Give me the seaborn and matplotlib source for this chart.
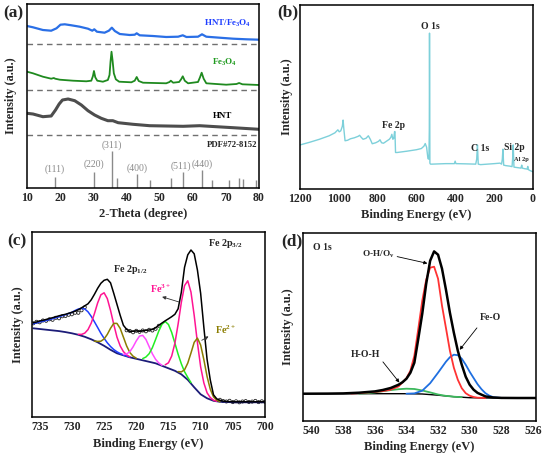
import matplotlib
matplotlib.use("Agg")
import matplotlib.pyplot as plt
import seaborn as sns

# ---------------- (a) XRD patterns ----------------
xrd_comp_x = [10, 11.8, 14.8, 17.3, 18.9, 20.1, 21.4, 23.4, 25.9, 28.4, 29.7, 30.3, 31.1, 33.4, 34.7,
              35.6, 36.5, 38.0, 41.0, 42.5, 43.1, 44.0, 48.0, 52.0, 55.6, 57.0, 58.1, 61.6, 62.8,
              64.1, 68.1, 72.2, 76.2, 80]
xrd_comp_y = [162, 160.7, 158, 157.3, 159.7, 163.3, 163.7, 162.7, 161.3, 159.3, 157.3, 158.7, 156.3,
              155.3, 157.3, 160.3, 157, 154, 153, 153.3, 154.7, 152.7, 152, 151, 151.3, 152.7, 151,
              151.3, 153.7, 151.3, 150.3, 149.3, 148.7, 148.3]

xrd_fe3o4_x = [10, 11.8, 14.8, 17.3, 18.1, 18.5, 19.9, 23.9, 27.9, 29.4, 29.9, 30.2, 30.6, 31.2, 32.9,
               34.4, 34.9, 35.2, 35.5, 35.8, 36.2, 36.8, 37.8, 41.5, 42.5, 43.1, 43.7, 45.0, 52.0,
               53.0, 53.4, 54.1, 55.9, 56.5, 57.0, 57.6, 58.6, 61.6, 62.2, 62.7, 63.3, 64.1, 70.1,
               73.2, 74.0, 75.0, 80]
xrd_fe3o4_y = [116.3, 114.7, 111.3, 109.3, 110, 109.3, 108.3, 107.3, 106.7, 107.3, 112, 117, 110.7,
               107.3, 106.3, 108, 113, 126.3, 136.3, 128, 114.7, 108.7, 106.3, 105.7, 107.3, 111, 107,
               105.3, 104.7, 106, 107.3, 105.3, 106, 108.7, 111.7, 107.3, 104.7, 106, 110.7, 115.3,
               109.3, 104.7, 103.3, 104, 105, 103.7, 103]

xrd_hnt_x = [10, 11.8, 14.8, 17.3, 18.6, 19.7, 20.7, 22.4, 24.4, 26.4, 28.4, 30.4, 32.4, 34.4, 35.9,
             37.5, 42.0, 47.0, 52.0, 57.1, 62.1, 67.1, 72.2, 80]
xrd_hnt_y = [74.7, 74, 71.3, 72, 78, 84, 88, 89, 87.3, 83, 77.3, 73, 69.7, 67.3, 67.3, 65.3, 63.7,
             62.3, 62, 61.7, 62.3, 61.3, 60.3, 58.7]

xrd_offsets = [143.7, 98, 53.5]

pdf_pos = [18.3, 30.2, 35.5, 37.2, 43.1, 47.2, 53.4, 57.0, 62.7, 65.8, 71.0, 74.0, 75.1, 79.0]
pdf_int = [10.7, 16.3, 36.7, 10, 13.7, 8, 10.3, 15.7, 18.3, 8, 8.3, 10, 9, 8.3]
hkl_labels = ['(111)', '(220)', '(311)', '(400)', '(511)', '(440)']
hkl_pos = [18.3, 30.2, 35.5, 43.1, 56.5, 62.9]
hkl_y = [19, 24, 43, 20, 22, 24]

# ---------------- (b) XPS survey ----------------
survey_x = [1200, 1150, 1100, 1050, 1020, 1005, 998, 990, 982, 978, 974, 968, 955, 940, 920, 900,
            893, 885, 875, 860, 848, 838, 828, 810, 795, 788, 780, 770, 755, 740, 732, 727, 722,
            717, 713, 711, 708, 700, 650, 600, 575, 562, 555, 548, 541, 536, 534, 533, 531, 528,
            520, 450, 405, 401, 397, 350, 295, 290, 286, 282, 270, 200, 170, 162, 158, 155, 151,
            140, 120, 108, 105, 102, 98, 80, 62, 58, 55, 45, 30, 27, 24, 15, 0]
survey_y = [44.3, 47, 50, 53.5, 56.5, 59.5, 57.5, 58.5, 63, 69.3, 60, 48.5, 49, 50.5, 51.5, 53, 54,
            52, 50, 51, 53.5, 50, 45.5, 46.5, 48, 49.5, 46.5, 46, 48, 50, 52, 55, 50, 51, 57.7,
            57.7, 36.7, 36.7, 38, 39.5, 40.7, 43, 45.7, 42, 30.5, 30, 60, 156.7, 26, 25, 25, 25.5,
            25.5, 28, 25.5, 25.3, 25, 30, 44.3, 25, 24.5, 25.5, 26, 25, 30, 40, 24, 23.5, 23,
            22.5, 30, 44.3, 22, 21.5, 21, 24, 21, 20.5, 20, 22.7, 19.5, 18.5, 17.3]

# ---------------- (c) Fe 2p ----------------
fe_env_x = [736, 735.5, 735, 734.5, 734, 733.5, 733, 732.5, 732, 731.5, 731, 730.5, 730, 729.5, 729,
            728.5, 728, 727.5, 727, 726.5, 726, 725.5, 725, 724.5, 724, 723.5, 723, 722.5, 722,
            721.5, 721, 720.5, 720, 719.5, 719, 718.5, 718, 717.5, 717, 716.5, 716, 715.5, 715,
            714.5, 714, 713.5, 713, 712.5, 712, 711.5, 711, 710.5, 710, 709.5, 709, 708.5, 708,
            707.5, 707, 706.5, 706, 705, 704, 703, 702, 701, 700]
fe_env_y = [94.5, 95.3, 96.3, 97, 97.8, 98.7, 99.6, 100.5, 101.5, 102.3, 103, 104, 105, 106.2, 107.6,
            109.5, 111.5, 113.5, 117.5, 123, 129, 134, 137, 138, 134.5, 124, 113, 102, 92, 88, 86,
            86, 86.5, 86, 86.5, 87, 87.3, 88, 89.5, 92, 94.3, 96.5, 98.5, 100.6, 103, 108.5, 125,
            150, 162.5, 167.3, 163.5, 147.3, 124, 90, 58, 37.3, 22.5, 18.5, 17, 16.2, 15.8, 15.5,
            15.5, 15.5, 15.5, 15.5, 15.5]
fe_raw_x = [736, 735.5, 735, 734.5, 734, 733.5, 733, 732.5, 732, 731.5, 731, 730.5, 730, 729.5,
            729, 728.5, 728, 721.5, 721, 720.5, 720, 719.5, 719, 718.5, 718, 717.5, 717, 716.5,
            707, 706.5, 706, 705.5, 705, 704.5, 704, 703.5, 703, 702.5, 702, 701.5, 701, 700.5, 700]
fe_raw_y = [94, 95.5, 95, 96.8, 96.5, 98, 97.5, 99.5, 99, 101, 101.3, 102.5, 103, 104.5, 104.5,
            107, 110, 87, 86.3, 85, 86.5, 85.5, 86.8, 86, 87.5, 86.8, 88.5, 91.5,
            17.5, 16.3, 15.8, 16.5, 15.2, 16, 15, 15.8, 16.2, 15.3, 15.7, 16.4, 15.2, 16, 15.5]
fe_bg_x = [736, 735, 734, 733, 732, 731, 730, 729, 728, 727, 726, 725, 724, 723, 722, 721, 720,
           719, 718, 717, 716, 715, 714, 713, 712, 711, 710, 709, 708, 707, 706, 705, 700]
fe_bg_y = [89, 88.3, 87.6, 86.9, 86.2, 85.2, 84, 82.5, 80.5, 78, 75, 71.5, 67.5, 64, 62, 60, 58.5,
           57, 55.5, 54, 51.5, 49, 46.5, 43, 37.5, 30, 23, 19, 16.5, 15.5, 15.3, 15, 15]

sat1_x = [736, 735, 734, 733, 732, 731, 730, 729.5, 729, 728.5, 728, 727.5, 727, 726.5, 726, 725.5,
          725, 724.5, 724, 723.5, 723, 722.5, 722, 721.5, 721]
sat1_y = [93.5, 95.3, 96.8, 98.6, 100.6, 102.6, 105, 106.8, 108.3, 109, 108.3, 105.5, 101, 95.5,
          89.8, 84, 79, 74.5, 70.8, 67.8, 65.5, 63.8, 62.5, 61.2, 60.3]
fe3_12_x = [729, 728.5, 728, 727.5, 727, 726.5, 726, 725.5, 725, 724.5, 724, 723.5, 723, 722.5,
            722, 721.5, 721]
fe3_12_y = [83, 82.9, 84.2, 87.7, 94.2, 103.7, 114.4, 122.5, 124.5, 118.7, 106.9, 93, 80.2, 71.4,
            65.7, 62.4, 60.5]
fe2_12_x = [726.5, 726, 725.5, 725, 724.5, 724, 723.5, 723, 722.5, 722, 721.5, 721, 720.5, 720]
fe2_12_y = [76.2, 75.9, 76.1, 78.3, 82.9, 89, 93.9, 93.9, 88.9, 80.2, 71.4, 64.8, 61.1, 59.1]
sat2_x = [722, 721.5, 721, 720.5, 720, 719.5, 719, 718.5, 718, 717.5, 717, 716.5, 716]
sat2_y = [62.8, 63.3, 65.6, 70.4, 76.4, 81.2, 81.9, 77.9, 70.7, 63.5, 58, 54.3, 52]
sat3_x = [719, 718.5, 718, 717.5, 717, 716.5, 716, 715.5, 715, 714.5, 714, 713.5, 713, 712.5, 712,
          711.5]
sat3_y = [58.7, 60.3, 63.6, 69.6, 77.8, 86.3, 93.1, 95.8, 92.8, 84.9, 74.2, 63.1, 53.5, 45.6, 39.9,
          34.7]
fe3_32_x = [715.5, 715, 714.5, 714, 713.5, 713, 712.5, 712, 711.5, 711, 710.5, 710, 709.5, 709,
            708.5, 708, 707.5]
fe3_32_y = [52.5, 54.5, 61.2, 74, 93.2, 114.9, 131.7, 136.5, 125.2, 101.9, 74.7, 50.5, 34.4, 24.5,
            19.7, 17.1, 16]
fe2_32_x = [713.5, 713, 712.5, 712, 711.5, 711, 710.5, 710, 709.5, 709, 708.5, 708, 707.5, 707]
fe2_32_y = [45.7, 45.4, 47.5, 54.2, 64.3, 75, 79.2, 72.3, 57.7, 40.8, 28, 20.4, 17.2, 15.6]

# ---------------- (d) O 1s ----------------
o_env_x = [540.5, 539, 538, 537, 536, 535.5, 535, 534.5, 534.25, 534, 533.75, 533.5, 533.25, 533,
           532.75, 532.5, 532.25, 532, 531.75, 531.5, 531.25, 531, 530.75, 530.5, 530.25, 530,
           529.75, 529.5, 529, 528.5, 528, 527, 525.8]
o_env_y = [27, 27.1, 27.3, 28, 29.3, 30.7, 32.7, 36, 38.5, 42, 48, 58, 82, 107, 137, 160, 169.3,
           166, 152, 131, 108, 88, 70, 56, 44, 36, 31, 27.8, 24.3, 23.2, 22.8, 22.7, 22.7]
o_bg_x = [540.5, 534, 533, 532, 531, 530, 529, 525.8]
o_bg_y = [27, 27, 26.7, 25.5, 24, 23, 22.7, 22.7]
oh_x = [537.5, 537, 536.5, 536, 535.5, 535, 534.5, 534, 533.75, 533.5, 533.25, 533, 532.75, 532.5,
        532.25, 532, 531.75, 531.5, 531.25, 531, 530.75, 530.5, 530.25, 530, 529.75, 529.5, 529]
oh_y = [27.2, 27.6, 28.2, 28.8, 29.6, 31, 34.3, 42.5, 50, 65, 92, 120, 141, 153, 154, 142, 115,
        92.7, 70, 53, 41, 32.5, 27.5, 25, 23.7, 23, 22.7]
feo_x = [534, 533.5, 533, 532.5, 532, 531.75, 531.5, 531.25, 531, 530.75, 530.5, 530.25, 530,
         529.75, 529.5, 529.25, 529, 528.75, 528.5, 528]
feo_y = [27, 27.3, 30, 37.5, 48, 53.5, 59, 63.5, 66, 65.5, 62, 56, 49, 42.7, 36.5, 31.5, 27.5, 25,
         23.5, 22.8]
hoh_x = [537, 536.5, 536, 535.5, 535, 534.5, 534, 533.5, 533, 532.5, 532, 531.5, 531, 530.5]
hoh_y = [27.1, 27.5, 28.3, 29.5, 30.6, 31.5, 32, 31.7, 30.2, 28.3, 26.2, 24.8, 24, 23.5]

# ---------------- style ----------------
sns.set_style("ticks")
plt.rcParams['font.family'] = ['Liberation Serif', 'DejaVu Serif']
plt.rcParams['font.weight'] = 'bold'
plt.rcParams['mathtext.fontset'] = 'custom'
plt.rcParams['mathtext.rm'] = 'Liberation Serif:bold'
plt.rcParams['mathtext.bf'] = 'Liberation Serif:bold'
plt.rcParams['mathtext.it'] = 'Liberation Serif:bold'

W, H = 550, 458
fig = plt.figure(figsize=(5.5, 4.58), dpi=100)


def px_axes(left, top, right, bottom):
    return fig.add_axes([left / W, 1 - bottom / H, (right - left) / W, (bottom - top) / H])


def style(ax, xlim, ylim, xticks, xlabel, ypad):
    ax.set_xlim(*xlim)
    ax.set_ylim(*ylim)
    ax.set_xticks(xticks)
    ax.set_yticks([])
    ax.tick_params(axis='x', length=0, pad=3, labelsize=8.5)
    for lab in ax.get_xticklabels():
        lab.set_fontweight('bold')
    ax.set_xlabel(xlabel, fontsize=9, fontweight='bold', labelpad=3)
    ax.set_ylabel('Intensity (a.u.)', fontsize=8.8, fontweight='bold', labelpad=ypad)
    for s in ax.spines.values():
        s.set_linewidth(1.1)
        s.set_color('black')


# (a)
ax1 = px_axes(27, 4, 259, 188)
for yo in xrd_offsets:
    ax1.axhline(yo, color='#707070', ls=(0, (4, 3)), lw=1.0)
ax1.vlines(pdf_pos, 0, pdf_int, color='#8a8a8a', lw=1.0)
sns.lineplot(x=xrd_hnt_x, y=xrd_hnt_y, ax=ax1, color='#4d4d4d', lw=2.2)
sns.lineplot(x=xrd_fe3o4_x, y=xrd_fe3o4_y, ax=ax1, color='#1f8a1f', lw=1.3)
sns.lineplot(x=xrd_comp_x, y=xrd_comp_y, ax=ax1, color='#2a6fe6', lw=1.6)
for lab, xp, yp in zip(hkl_labels, hkl_pos, hkl_y):
    ax1.text(xp, yp, lab, ha='center', va='center', fontsize=7, color='#8a8a8a', fontweight='normal')
ax1.text(79.5, 43, 'PDF#72-8152', ha='right', va='center', fontsize=6.3)
ax1.text(70.4, 165, 'HNT/Fe$_3$O$_4$', ha='center', va='center', fontsize=6.5, color='#1f3fff')
ax1.text(69.5, 126, 'Fe$_3$O$_4$', ha='center', va='center', fontsize=6.5, color='#1f9a1f')
ax1.text(69.0, 72, 'HNT', ha='center', va='center', fontsize=6.5, color='black')
style(ax1, (10, 80), (0, 184), range(10, 81, 10), '2-Theta (degree)', 7)

# (b)
ax2 = px_axes(300, 5, 533, 189)
sns.lineplot(x=survey_x, y=survey_y, ax=ax2, color='#7dd0da', lw=1.0)
ax2.text(528, 163, 'O 1s', ha='center', va='center', fontsize=7)
ax2.text(717, 63.7, 'Fe 2p', ha='center', va='center', fontsize=7)
ax2.text(274, 40.3, 'C 1s', ha='center', va='center', fontsize=7)
ax2.text(96, 41.3, 'Si 2p', ha='center', va='center', fontsize=7)
ax2.text(58, 30, 'Al 2p', ha='center', va='center', fontsize=4.6)
style(ax2, (1200, 0), (0, 185), range(1200, -1, -200), 'Binding Energy (eV)', 5)

# (c)
ax3 = px_axes(32, 232, 265, 417.3)
sns.lineplot(x=fe_bg_x, y=fe_bg_y, ax=ax3, color='#1c1c78', lw=1.3)
sns.lineplot(x=sat1_x, y=sat1_y, ax=ax3, color='#1f3fff', lw=1.1)
sns.lineplot(x=fe3_12_x, y=fe3_12_y, ax=ax3, color='#ff1493', lw=1.1)
sns.lineplot(x=fe2_12_x, y=fe2_12_y, ax=ax3, color='#8b7d00', lw=1.1)
sns.lineplot(x=sat2_x, y=sat2_y, ax=ax3, color='#ff4dff', lw=1.1)
sns.lineplot(x=sat3_x, y=sat3_y, ax=ax3, color='#22ee22', lw=1.1)
sns.lineplot(x=fe3_32_x, y=fe3_32_y, ax=ax3, color='#ff1493', lw=1.1)
sns.lineplot(x=fe2_32_x, y=fe2_32_y, ax=ax3, color='#8b7d00', lw=1.1)
sns.lineplot(x=fe_env_x, y=fe_env_y, ax=ax3, color='black', lw=1.1)
sns.scatterplot(x=fe_raw_x, y=fe_raw_y, ax=ax3, s=5, marker='o', facecolor='none',
                edgecolor='#222222', linewidth=0.6)
ax3.text(720.9, 147.3, 'Fe 2p$_{1/2}$', ha='center', va='center', fontsize=7.3)
ax3.text(706.2, 173.8, 'Fe 2p$_{3/2}$', ha='center', va='center', fontsize=7.3)
ax3.text(716.2, 128.3, 'Fe$^{3+}$', ha='center', va='center', fontsize=7.3, color='#ff1493')
ax3.text(706.2, 87, 'Fe$^{2+}$', ha='center', va='center', fontsize=7.3, color='#8b7d00')
ax3.annotate('', xy=(716.4, 121.3), xytext=(713.0, 114.6),
             arrowprops=dict(arrowstyle='-|>', color='#333333', lw=0.6, mutation_scale=5))
ax3.annotate('', xy=(708.4, 82.3), xytext=(710.2, 75.6),
             arrowprops=dict(arrowstyle='-|>', color='#333333', lw=0.6, mutation_scale=5))
style(ax3, (736.2, 700), (0, 185.3), range(735, 699, -5), 'Binding Energy (eV)', 6)

# (d)
ax4 = px_axes(303.3, 233, 536, 420.7)
sns.lineplot(x=o_bg_x, y=o_bg_y, ax=ax4, color='black', lw=1.0)
sns.lineplot(x=hoh_x, y=hoh_y, ax=ax4, color='#3cb85c', lw=1.3)
sns.lineplot(x=feo_x, y=feo_y, ax=ax4, color='#1f6fe0', lw=1.3)
sns.lineplot(x=oh_x, y=oh_y, ax=ax4, color='#ff3333', lw=1.3)
sns.lineplot(x=o_env_x, y=o_env_y, ax=ax4, color='black', lw=1.8)
ax4.text(539.35, 172.7, 'O 1s', ha='center', va='center', fontsize=7)
ax4.text(535.77, 166.7, 'O-H/O$_v$', ha='center', va='center', fontsize=6.7)
ax4.text(528.69, 102.7, 'Fe-O', ha='center', va='center', fontsize=7)
ax4.text(536.62, 66, 'H-O-H', ha='center', va='center', fontsize=7)
for tip, tail in [((532.5, 156.7), (534.76, 164.7)), ((530.74, 68.7), (529.43, 95)),
                  ((534.34, 36), (535.6, 61))]:
    ax4.annotate('', xy=tip, xytext=tail,
                 arrowprops=dict(arrowstyle='-|>', color='black', lw=0.6, mutation_scale=5))
style(ax4, (540.53, 525.8), (0, 187.7), range(540, 525, -2), 'Binding Energy (eV)', 7)

# panel letters
for lab, xp, yp in [('(a)', 3, 13.5), ('(b)', 277, 12.5), ('(c)', 7, 241.5), ('(d)', 281, 241.5)]:
    fig.text(xp / W, 1 - yp / H, lab, ha='left', va='center', fontsize=12.5, fontweight='bold')

fig.savefig('out.png', dpi=100)
